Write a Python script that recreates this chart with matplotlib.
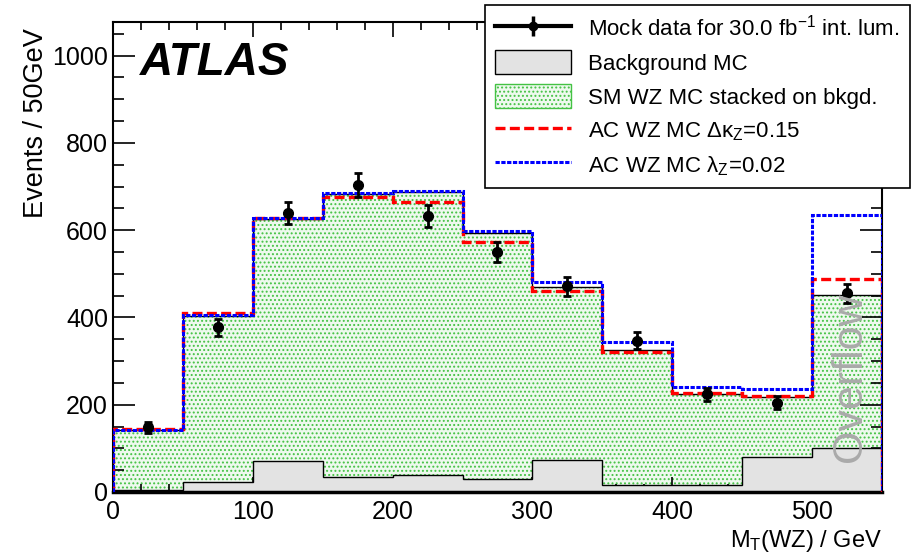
import numpy as np
import matplotlib
matplotlib.use("Agg")
import matplotlib.pyplot as plt
from matplotlib.lines import Line2D
from matplotlib.patches import Patch
from matplotlib.ticker import MultipleLocator

plt.rcParams["font.family"] = ["Liberation Sans", "DejaVu Sans"]
plt.rcParams["mathtext.fontset"] = "custom"
plt.rcParams["mathtext.rm"] = "Liberation Sans"
plt.rcParams["mathtext.it"] = "Liberation Sans:italic"
plt.rcParams["mathtext.default"] = "regular"
plt.rcParams["hatch.linewidth"] = 0.9

# bin edges in M_T(WZ) [GeV], last bin is overflow
edges = [0, 50, 100, 150, 200, 250, 300, 350, 400, 450, 500, 550]
bkg_mc = [5, 23, 70, 34, 38, 30, 73, 15, 15, 80, 100]
sm_total = [141, 403, 626, 684, 687, 593, 470, 325, 224, 217, 451]
ac_kappa = [145, 410, 627, 675, 665, 572, 461, 320, 227, 221, 488]
ac_lambda = [143, 405, 628, 686, 690, 598, 482, 344, 240, 237, 634]

data_x = [25, 75, 125, 175, 225, 275, 325, 375, 425, 475, 525]
data_y = [148, 377, 640, 703, 632, 549, 471, 347, 224, 205, 455]
data_err = [12, 19, 25, 27, 25, 23, 22, 19, 15, 14, 21]

green = "#44c244"
fig = plt.figure(figsize=(9.14, 5.57), dpi=100)
ax = fig.add_axes([0.1236, 0.1167, 0.8414, 0.8438])

# SM WZ stacked on background (green dotted fill) + black outline
ax.stairs(sm_total, edges, fill=True, facecolor="#eef9ee", edgecolor=green,
          hatch="....", linewidth=0, zorder=1)
ax.stairs(sm_total, edges, color="black", linewidth=1.0, zorder=3)
# background MC
ax.stairs(bkg_mc, edges, fill=True, facecolor="#e3e3e3", edgecolor="none", zorder=2)
ax.stairs(bkg_mc, edges, color="black", linewidth=1.0, zorder=2.5)

ax.stairs(ac_kappa, edges, color="red", linewidth=2.4, linestyle=(0, (3, 1.3)), zorder=4)
ax.stairs(ac_lambda, edges, color="blue", linewidth=2.2, linestyle=(0, (1.4, 0.5)), zorder=5)

ax.errorbar(data_x, data_y, yerr=data_err, fmt="o", color="black", markersize=7,
            elinewidth=2, capsize=3, capthick=2, zorder=6)

ax.set_xlim(0, 550)
ax.set_ylim(0, 1077)
ax.xaxis.set_major_locator(MultipleLocator(100))
ax.xaxis.set_minor_locator(MultipleLocator(20))
ax.yaxis.set_major_locator(MultipleLocator(200))
ax.yaxis.set_minor_locator(MultipleLocator(50))
ax.tick_params(axis="both", which="both", direction="in", top=True, right=True,
               labelsize=18, width=1.2)
ax.tick_params(axis="y", which="major", length=16)
ax.tick_params(axis="y", which="minor", length=8)
ax.tick_params(axis="x", which="major", length=11, pad=6)
ax.tick_params(axis="x", which="minor", length=6)
for s in ax.spines.values():
    s.set_linewidth(1.5)
ax.spines["bottom"].set_linewidth(2.5)

ax.set_ylabel("Events / 50GeV", fontsize=19.5, loc="top")
ax.yaxis.set_label_coords(-0.083, 0.987)
ax.set_xlabel("M$_T$(WZ) / GeV", fontsize=17, loc="right", labelpad=3)

ax.text(0.035, 0.912, "ATLAS", transform=ax.transAxes, fontsize=33,
        fontweight="bold", fontstyle="italic", va="center", ha="left")
ax.text(527, 264, "Overflow", rotation=90, color="#aaaaaa", fontsize=31,
        ha="center", va="center", zorder=7)

h_data = (Line2D([], [], color="black", linewidth=3),
          Line2D([], [], color="black", marker="|", markersize=14, markeredgewidth=2.5, linestyle="none"),
          Line2D([], [], color="black", marker="o", markersize=6, linestyle="none"))
h_bkg = Patch(facecolor="#e3e3e3", edgecolor="black", linewidth=1)
h_sm = Patch(facecolor="#eef9ee", edgecolor=green, hatch="....", linewidth=1)
h_kap = Line2D([], [], color="red", linewidth=2.4, linestyle=(0, (3, 1.3)))
h_lam = Line2D([], [], color="blue", linewidth=2.2, linestyle=(0, (1.4, 0.5)))
labels = ["Mock data for 30.0 fb$^{-1}$ int. lum.", "Background MC",
          "SM WZ MC stacked on bkgd.", "AC WZ MC $\\Delta\\kappa_Z$=0.15",
          "AC WZ MC $\\lambda_Z$=0.02"]
leg = ax.legend([h_data, h_bkg, h_sm, h_kap, h_lam], labels, loc="upper right",
                bbox_to_anchor=(910 / 914, 1 - 5 / 557), bbox_transform=fig.transFigure,
                fontsize=16, frameon=True, fancybox=False, framealpha=1,
                edgecolor="black", handlelength=3.4, handleheight=1.3,
                labelspacing=0.42, borderpad=0.45, handletextpad=0.8,
                borderaxespad=0)
leg.get_frame().set_linewidth(1.2)
leg.set_zorder(10)

fig.savefig("out.png", dpi=100)
